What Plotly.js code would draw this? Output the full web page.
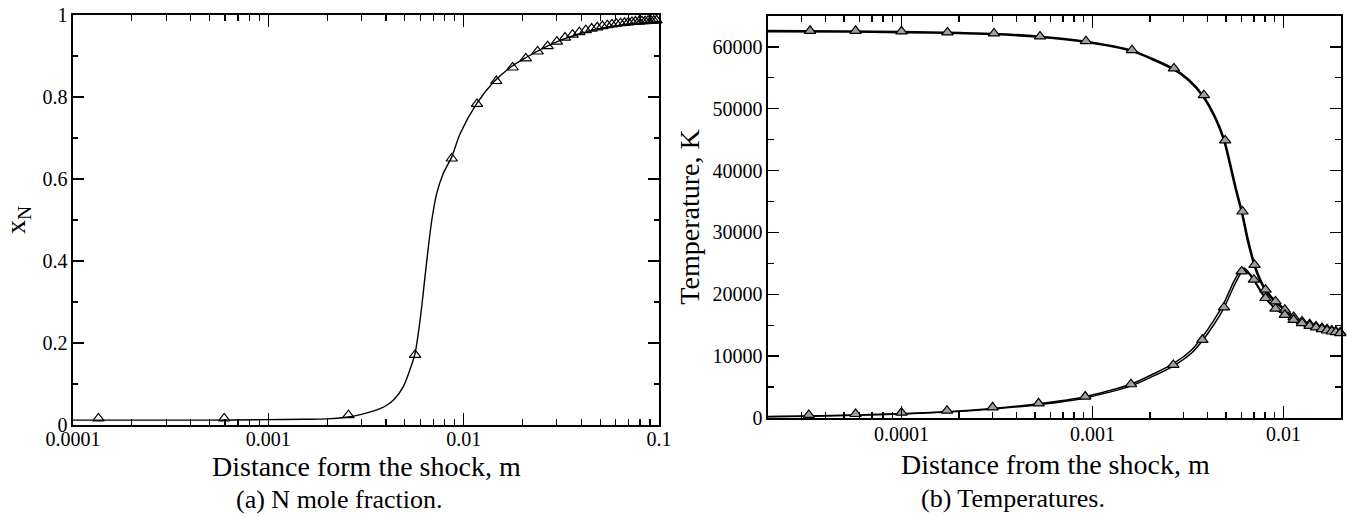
<!DOCTYPE html>
<html><head><meta charset="utf-8">
<script src="https://cdn.plot.ly/plotly-3.0.1.min.js"></script>
<style>html,body{margin:0;padding:0;background:#fff;} #chart{width:1348px;height:518px;}</style>
</head><body><div id="chart"></div>
<script>
// ---- Left panel: N mole fraction ----
const xnLineX = [1e-4, 5e-4, 1e-3, 1.5e-3, 2e-3, 2.5e-3, 3e-3, 3.5e-3, 4e-3, 4.4e-3, 4.9e-3, 5.3e-3, 5.64e-3, 5.86e-3, 6.1e-3, 6.34e-3, 6.6e-3, 6.87e-3, 7.28e-3, 7.87e-3, 8.69e-3, 9.6e-3, 0.0117, 0.0142, 0.0173, 0.021, 0.026, 0.0312, 0.0385, 0.0462, 0.056, 0.0684, 0.083, 0.1];
const xnLineY = [0.012, 0.012, 0.013, 0.014, 0.015, 0.019, 0.026, 0.035, 0.047, 0.062, 0.093, 0.134, 0.175, 0.224, 0.289, 0.362, 0.435, 0.500, 0.565, 0.614, 0.654, 0.711, 0.785, 0.836, 0.872, 0.897, 0.921, 0.938, 0.953, 0.963, 0.971, 0.977, 0.981, 0.984];
const xnMarkX = [1.35e-4, 5.94e-4, 2.57e-3, 5.64e-3, 8.69e-3, 0.0117, 0.0147, 0.0178, 0.0208, 0.0239, 0.0269, 0.0300, 0.0330, 0.0361, 0.0391, 0.0422, 0.0452, 0.0483, 0.0513, 0.0544, 0.0574, 0.0605, 0.0635, 0.0666, 0.0696, 0.0727, 0.0757, 0.0788, 0.0818, 0.0849, 0.0879, 0.0910, 0.0940, 0.0971, 0.1];
const xnMarkY = [0.016, 0.016, 0.024, 0.171, 0.650, 0.783, 0.839, 0.872, 0.894, 0.911, 0.924, 0.935, 0.945, 0.952, 0.958, 0.963, 0.967, 0.970, 0.973, 0.975, 0.977, 0.979, 0.980, 0.981, 0.982, 0.983, 0.984, 0.984, 0.985, 0.985, 0.986, 0.986, 0.986, 0.987, 0.987];
const xnTickVals = [1e-4, 1e-3, 1e-2, 1e-1];
const xnTickText = ['0.0001', '0.001', '0.01', '0.1'];
const xnMinorVals = [2e-4,3e-4,4e-4,5e-4,6e-4,7e-4,8e-4,9e-4, 2e-3,3e-3,4e-3,5e-3,6e-3,7e-3,8e-3,9e-3, 2e-2,3e-2,4e-2,5e-2,6e-2,7e-2,8e-2,9e-2];

// ---- Right panel: Temperatures ----
const tUpX = [2e-5, 5e-5, 1e-4, 2e-4, 3e-4, 5.3e-4, 9.2e-4, 1.6e-3, 2.65e-3, 3.2e-3, 3.8e-3, 4.4e-3, 4.9e-3, 5.3e-3, 5.6e-3, 6.05e-3, 6.5e-3, 7.05e-3, 7.5e-3, 8.05e-3, 9.1e-3, 0.0102, 0.0113, 0.0125, 0.0137, 0.0148, 0.0159, 0.0169, 0.0179, 0.0188, 0.02];
const tUpY = [62550, 62500, 62400, 62250, 62100, 61650, 60850, 59400, 56450, 54600, 52000, 48500, 44800, 40500, 37300, 33300, 28800, 24700, 22500, 20700, 18800, 17450, 16350, 15600, 15150, 14780, 14520, 14330, 14130, 13980, 13800];
const tLowX = [2e-5, 3.3e-5, 5.75e-5, 1e-4, 1.74e-4, 3e-4, 5.2e-4, 9.2e-4, 1.6e-3, 2.65e-3, 3.3e-3, 3.76e-3, 4.3e-3, 4.88e-3, 5.5e-3, 6.0e-3, 6.25e-3, 6.6e-3, 7.0e-3, 7.5e-3, 8.05e-3, 9.1e-3, 0.0102, 0.0113, 0.0125, 0.0137, 0.0148, 0.0159, 0.0169, 0.0179, 0.0188, 0.02];
const tLowY = [200, 300, 450, 650, 950, 1450, 2150, 3250, 5200, 8400, 10500, 12500, 15000, 17800, 21300, 23500, 23900, 23300, 22200, 20700, 19300, 17600, 16600, 15800, 15250, 14850, 14580, 14330, 14130, 13980, 13880, 13700];
const tLow2Y = [230, 330, 490, 700, 1020, 1550, 2300, 3450, 5500, 8800, 11000, 13100, 15700, 18600, 22100, 24000, 24200, 23500, 22400, 20900, 19450, 17700, 16680, 15870, 15300, 14900, 14620, 14370, 14160, 14000, 13900, 13720];
const tUpMarkX = [3.32e-5, 5.75e-5, 1e-4, 1.74e-4, 3.05e-4, 5.31e-4, 9.24e-4, 1.61e-3, 2.67e-3, 3.83e-3, 4.95e-3, 6.1e-3, 7.05e-3, 8.05e-3, 9.08e-3, 0.01016, 0.0113, 0.0125, 0.0137, 0.0148, 0.0159, 0.0169, 0.0179, 0.0188, 0.0198];
const tUpMarkY = [62610, 62610, 62510, 62350, 62190, 61700, 60940, 59480, 56520, 52190, 44890, 33390, 24750, 20750, 18850, 17500, 16320, 15610, 15180, 14800, 14540, 14370, 14150, 13990, 13830];
const tLowMarkX = [3.27e-5, 5.75e-5, 1e-4, 1.73e-4, 3.0e-4, 5.22e-4, 9.16e-4, 1.59e-3, 2.65e-3, 3.76e-3, 4.88e-3, 6.04e-3, 7.0e-3, 8.05e-3, 9.08e-3, 0.01016, 0.0113, 0.0125, 0.0137, 0.0148, 0.0159, 0.0169, 0.0179, 0.0188, 0.0198];
const tLowMarkY = [490, 650, 860, 1190, 1730, 2380, 3460, 5460, 8590, 12640, 17880, 23710, 22370, 19400, 17670, 16690, 15880, 15340, 14910, 14640, 14370, 14150, 13990, 13890, 13730];
const tTickVals = [1e-4, 1e-3, 1e-2];
const tTickText = ['0.0001', '0.001', '0.01'];
const tMinorVals = [3e-5,4e-5,5e-5,6e-5,7e-5,8e-5,9e-5, 2e-4,3e-4,4e-4,5e-4,6e-4,7e-4,8e-4,9e-4, 2e-3,3e-3,4e-3,5e-3,6e-3,7e-3,8e-3,9e-3];

const FONT = "'Liberation Serif', 'Times New Roman', serif";
const W = 1348, H = 518;

const traces = [
  {x: xnLineX, y: xnLineY, mode: 'lines', line: {color: '#000', width: 1.4, shape: 'spline', smoothing: 0.8}, xaxis: 'x', yaxis: 'y', hoverinfo: 'skip'},
  {x: xnMarkX, y: xnMarkY, mode: 'markers', marker: {symbol: 'triangle-up-open', size: 10, color: '#000', line: {width: 1.2, color: '#000'}}, xaxis: 'x', yaxis: 'y', cliponaxis: false},
  {x: tUpX, y: tUpY, mode: 'lines', line: {color: '#000', width: 2.6, shape: 'spline', smoothing: 0.6}, xaxis: 'x2', yaxis: 'y2'},
  {x: tLowX, y: tLowY, mode: 'lines', line: {color: '#000', width: 1.5, shape: 'spline', smoothing: 0.6}, xaxis: 'x2', yaxis: 'y2'},
  {x: tLowX, y: tLow2Y, mode: 'lines', line: {color: '#000', width: 1.5, shape: 'spline', smoothing: 0.6}, xaxis: 'x2', yaxis: 'y2'},
  {x: tUpMarkX, y: tUpMarkY, mode: 'markers', marker: {symbol: 'triangle-up', size: 10, color: '#a0a0a0', line: {width: 1.2, color: '#000'}}, xaxis: 'x2', yaxis: 'y2', cliponaxis: false},
  {x: tLowMarkX, y: tLowMarkY, mode: 'markers', marker: {symbol: 'triangle-up', size: 10, color: '#a0a0a0', line: {width: 1.2, color: '#000'}}, xaxis: 'x2', yaxis: 'y2', cliponaxis: false}
];

const tickFont = {family: FONT, size: 20, color: '#000'};
const titleFont = {family: FONT, size: 28, color: '#000'};

function axisBase(extra) {
  const base = {
    showline: true, linecolor: '#000', linewidth: 1.6, mirror: 'allticks',
    ticks: 'inside', ticklen: 12, tickwidth: 1.4, tickcolor: '#000',
    showgrid: false, zeroline: false, fixedrange: true,
    tickfont: tickFont
  };
  for (const k in extra) base[k] = extra[k];
  return base;
}

const layout = {
  width: W, height: H,
  margin: {l: 0, r: 0, t: 0, b: 0},
  paper_bgcolor: '#fff', plot_bgcolor: '#fff',
  showlegend: false,
  font: {family: FONT, size: 20, color: '#000'},
  xaxis: axisBase({
    type: 'log', range: [-4, -1], domain: [73/W, 659/W], anchor: 'y',
    tickmode: 'array', tickvals: xnTickVals, ticktext: xnTickText, ticklabelstandoff: -5,
    minor: {tickmode: 'array', tickvals: xnMinorVals, ticks: 'inside', ticklen: 6, tickwidth: 1.2, tickcolor: '#000'}
  }),
  yaxis: axisBase({
    range: [0, 1], domain: [1 - 425/H, 1 - 15/H], anchor: 'x',
    tickmode: 'linear', dtick: 0.2, tick0: 0, ticklen: 11,
    minor: {dtick: 0.1, ticks: 'inside', ticklen: 5, tickwidth: 1.2, tickcolor: '#000'},
    title: {text: 'x<sub>N</sub>', font: titleFont, standoff: 8}
  }),
  xaxis2: axisBase({
    type: 'log', range: [Math.log10(2e-5), Math.log10(0.02)], domain: [768/W, 1341/W], anchor: 'y2',
    tickmode: 'array', tickvals: tTickVals, ticktext: tTickText, ticklabelstandoff: -3,
    minor: {tickmode: 'array', tickvals: tMinorVals, ticks: 'inside', ticklen: 6, tickwidth: 1.2, tickcolor: '#000'}
  }),
  yaxis2: axisBase({
    range: [0, 65000], domain: [1 - 418/H, 1 - 16/H], anchor: 'x2',
    tickmode: 'linear', dtick: 10000, tick0: 0, tickformat: 'd', ticklen: 11,
    minor: {dtick: 5000, ticks: 'inside', ticklen: 6, tickwidth: 1.2, tickcolor: '#000'},
    title: {text: 'Temperature, K', font: titleFont, standoff: 4}
  }),
  annotations: [
    {text: 'Distance form the shock, m', xref: 'paper', yref: 'paper', x: 366/W, y: 1 - 466/H, xanchor: 'center', yanchor: 'middle', showarrow: false, font: titleFont},
    {text: 'Distance from the shock, m', xref: 'paper', yref: 'paper', x: 1055/W, y: 1 - 464/H, xanchor: 'center', yanchor: 'middle', showarrow: false, font: titleFont},
    {text: '(a) N mole fraction.', xref: 'paper', yref: 'paper', x: 339/W, y: 1 - 499/H, xanchor: 'center', yanchor: 'middle', showarrow: false, font: {family: FONT, size: 26, color: '#000'}},
    {text: '(b) Temperatures.', xref: 'paper', yref: 'paper', x: 1013/W, y: 1 - 498/H, xanchor: 'center', yanchor: 'middle', showarrow: false, font: {family: FONT, size: 26, color: '#000'}}
  ]
};

Plotly.newPlot('chart', traces, layout, {staticPlot: true, displayModeBar: false});
</script></body></html>
